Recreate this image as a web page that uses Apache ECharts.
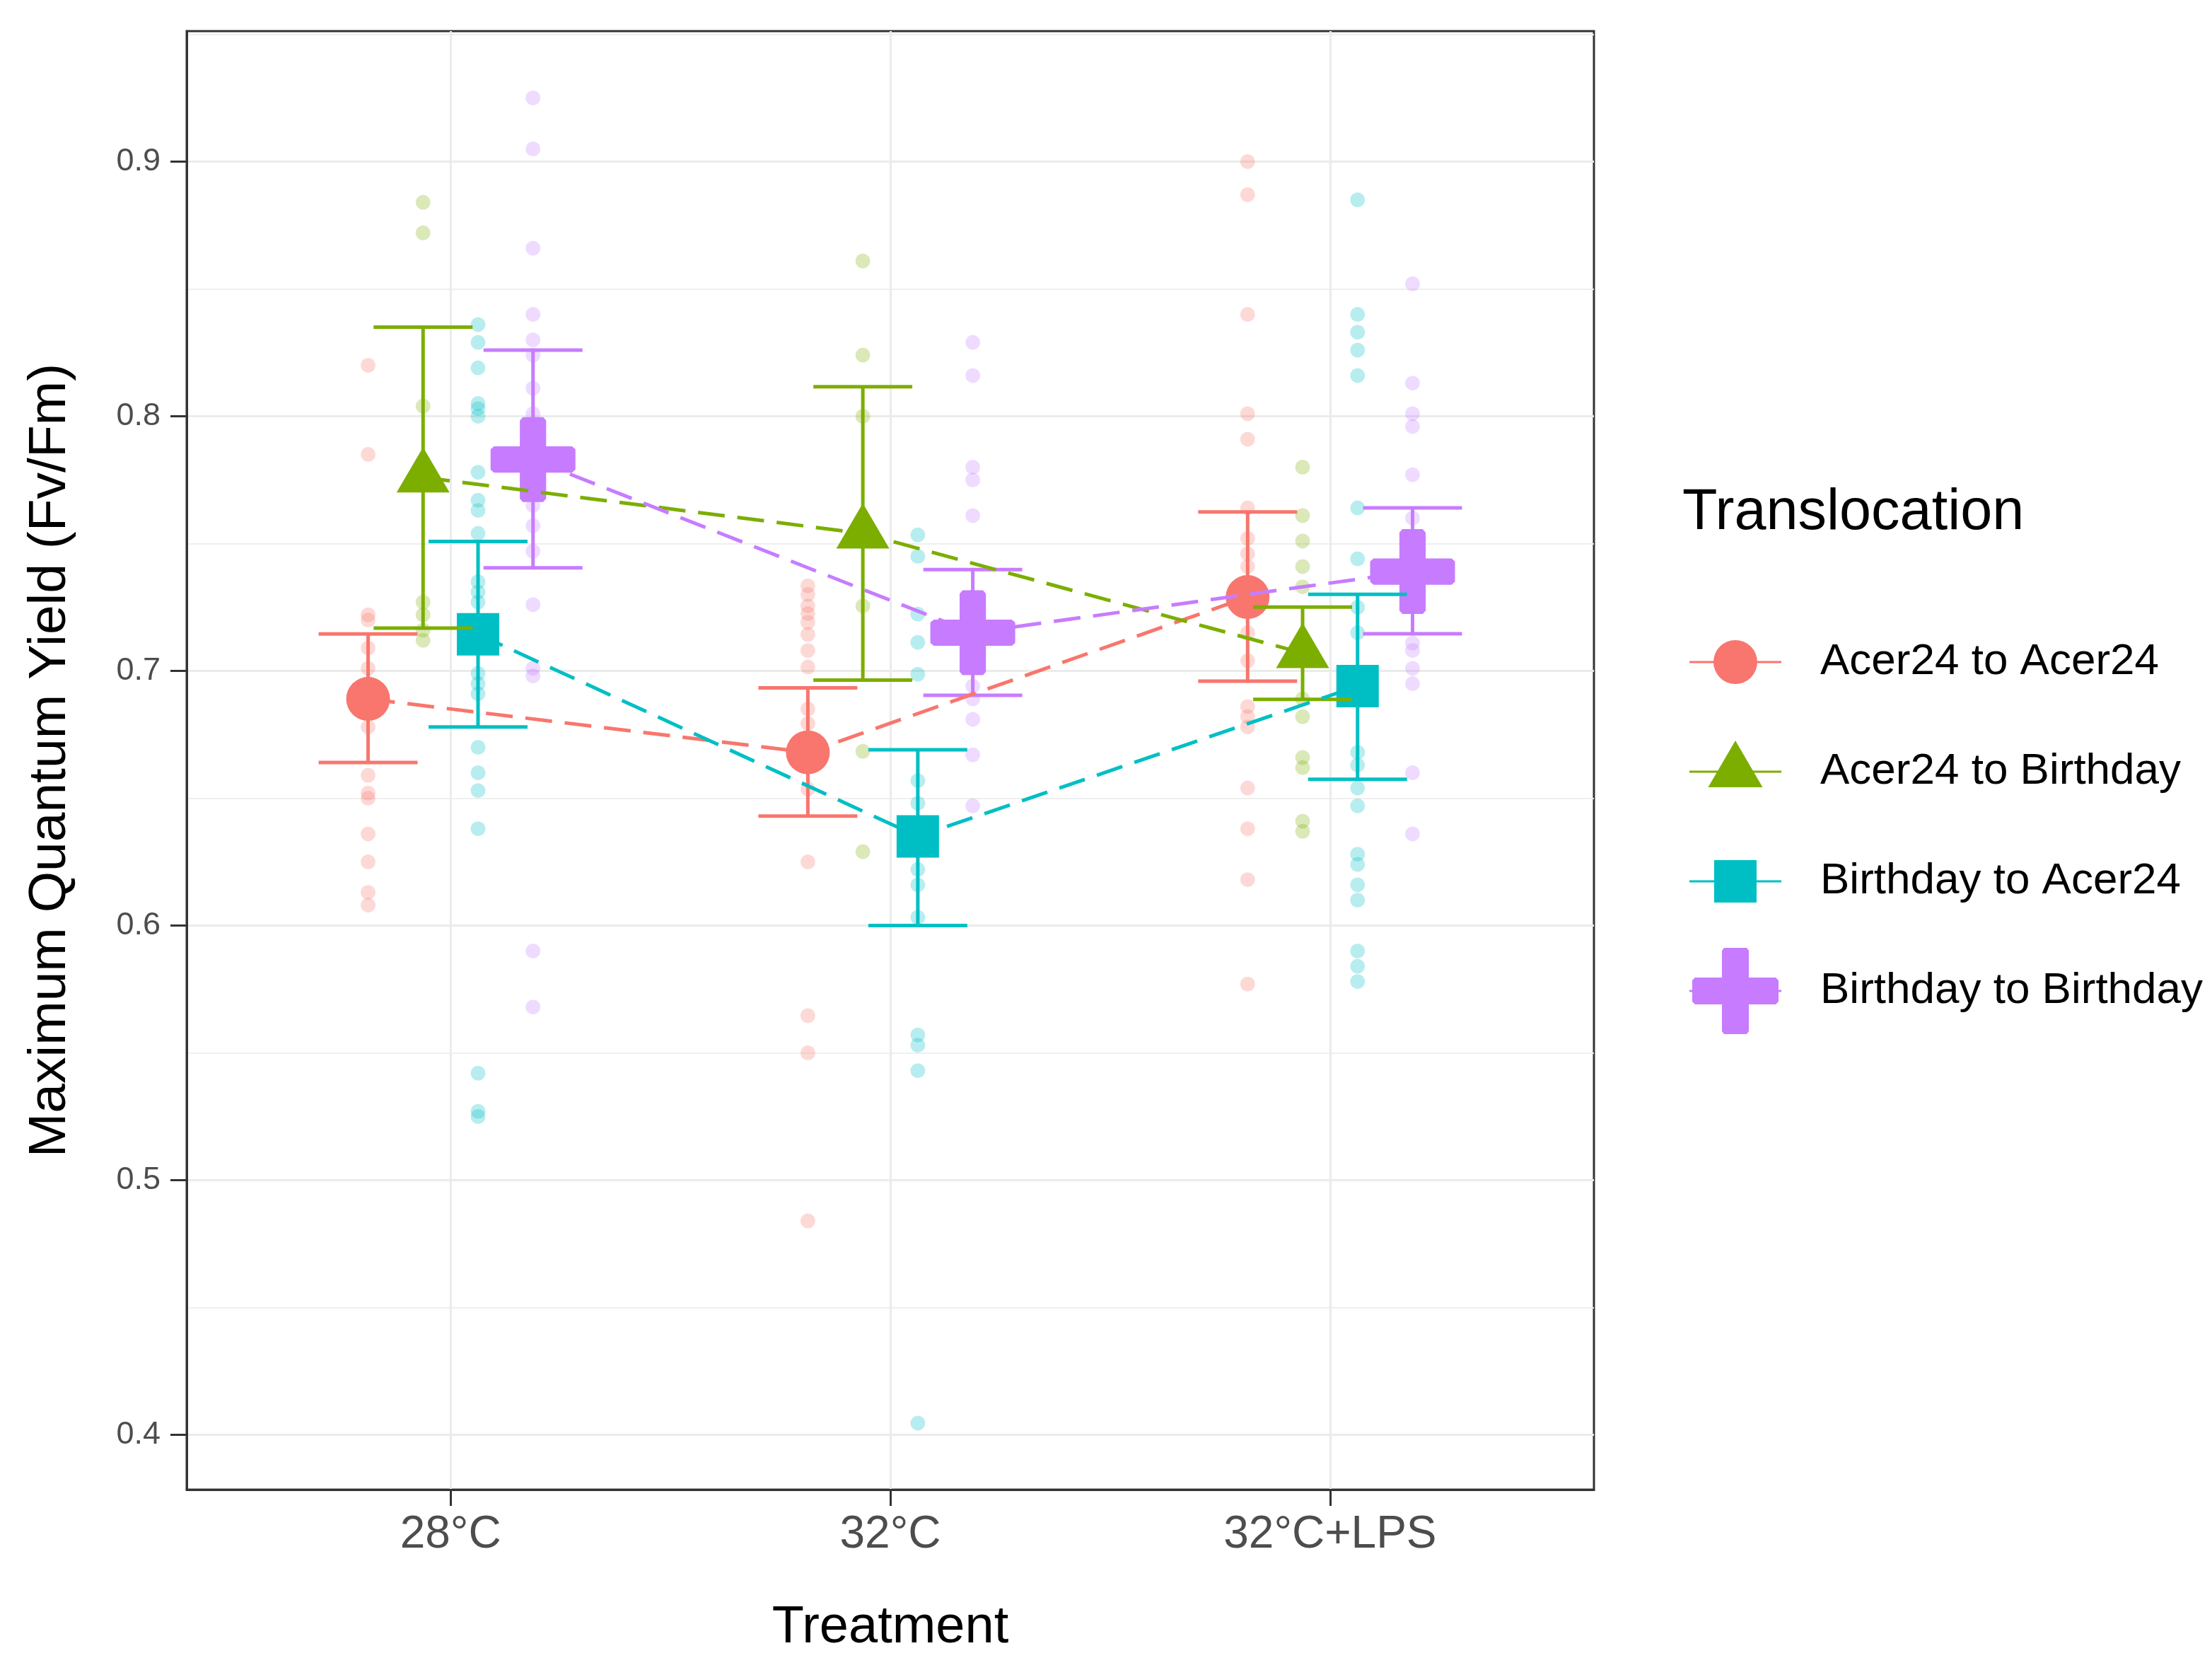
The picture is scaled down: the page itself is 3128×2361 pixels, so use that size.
<!DOCTYPE html>
<html>
<head>
<meta charset="utf-8">
<script src="https://cdn.jsdelivr.net/npm/echarts@6/dist/echarts.min.js"></script>
<style>
html,body{margin:0;padding:0;background:#fff;}
#chart{width:3128px;height:2361px;}
</style>
</head>
<body>
<div id="chart"></div>
<script>
// ---------- data ----------
const treatments = ['28°C', '32°C', '32°C+LPS'];
const groups = ['Acer24 to Acer24', 'Acer24 to Birthday', 'Birthday to Acer24', 'Birthday to Birthday'];
const yTicks = [0.4, 0.5, 0.6, 0.7, 0.8, 0.9];
const yMinorTicks = [0.45, 0.55, 0.65, 0.75, 0.85, 0.95];

// means and error-bar limits (per treatment)
const meanA2A = [0.689, 0.668, 0.729];
const lowA2A  = [0.664, 0.643, 0.696];
const highA2A = [0.7145, 0.6933, 0.7624];

const meanA2B = [0.776, 0.754, 0.707];
const lowA2B  = [0.7168, 0.6964, 0.6888];
const highA2B = [0.835, 0.8116, 0.7251];

const meanB2A = [0.7144, 0.635, 0.694];
const lowB2A  = [0.678, 0.600, 0.6574];
const highB2A = [0.7508, 0.669, 0.7301];

const meanB2B = [0.783, 0.715, 0.739];
const lowB2B  = [0.7405, 0.6904, 0.7146];
const highB2B = [0.826, 0.7398, 0.764];

// raw observations (per treatment)
const rawA2A = [
  [0.820, 0.785, 0.722, 0.720, 0.709, 0.701, 0.695, 0.688, 0.678, 0.659, 0.652, 0.650, 0.636, 0.625, 0.613, 0.608],
  [0.7334, 0.730, 0.7255, 0.7225, 0.7191, 0.7143, 0.708, 0.7015, 0.685, 0.6793, 0.6536, 0.625, 0.5646, 0.550, 0.484],
  [0.900, 0.887, 0.840, 0.801, 0.791, 0.764, 0.752, 0.746, 0.741, 0.715, 0.704, 0.686, 0.682, 0.678, 0.654, 0.638, 0.618, 0.577]
];
const rawA2B = [
  [0.884, 0.872, 0.804, 0.727, 0.722, 0.716, 0.712],
  [0.861, 0.824, 0.800, 0.7255, 0.6684, 0.629],
  [0.780, 0.761, 0.751, 0.741, 0.733, 0.689, 0.682, 0.666, 0.662, 0.641, 0.637]
];
const rawB2A = [
  [0.836, 0.829, 0.819, 0.805, 0.803, 0.800, 0.778, 0.767, 0.763, 0.754, 0.735, 0.731, 0.727, 0.699, 0.695, 0.691, 0.670, 0.660, 0.653, 0.638, 0.542, 0.527, 0.525],
  [0.7534, 0.745, 0.7223, 0.7112, 0.6987, 0.6569, 0.648, 0.622, 0.616, 0.6032, 0.557, 0.553, 0.543, 0.4046],
  [0.885, 0.840, 0.833, 0.826, 0.816, 0.764, 0.744, 0.725, 0.715, 0.668, 0.663, 0.654, 0.647, 0.628, 0.624, 0.616, 0.610, 0.590, 0.584, 0.578]
];
const rawB2B = [
  [0.925, 0.905, 0.866, 0.840, 0.830, 0.824, 0.811, 0.801, 0.765, 0.757, 0.747, 0.726, 0.701, 0.698, 0.590, 0.568],
  [0.829, 0.816, 0.780, 0.775, 0.761, 0.694, 0.689, 0.681, 0.667, 0.647],
  [0.852, 0.813, 0.801, 0.796, 0.777, 0.760, 0.711, 0.708, 0.701, 0.695, 0.660, 0.636]
];

// ---------- styling ----------
const FONT = 'Liberation Sans, Arial, sans-serif';
const colors = ['#F8766D', '#7CAE00', '#00BFC4', '#C77CFF'];
const dodge = [-0.1875, -0.0625, 0.0625, 0.1875];
const capHalf = 0.1125;
const means = [meanA2A, meanA2B, meanB2A, meanB2B];
const lows = [lowA2A, lowA2B, lowB2A, lowB2B];
const highs = [highA2A, highA2B, highB2A, highB2B];
const raws = [rawA2A, rawA2B, rawB2A, rawB2B];

const plusPath = 'path://M38,0 L62,0 L65.5,4 L65.5,34.5 L96,34.5 L100,38 L100,62 L96,65.5 L65.5,65.5 L65.5,96 L62,100 L38,100 L34.5,96 L34.5,65.5 L4,65.5 L0,62 L0,38 L4,34.5 L34.5,34.5 L34.5,4 Z';
const meanSymbols = [
  {symbol: 'circle', size: 62, offset: [0, 0]},
  {symbol: 'triangle', size: [75, 64], offset: [0, '-16.7%']},
  {symbol: 'rect', size: 60, offset: [0, 0]},
  {symbol: plusPath, size: 120, offset: [0, 0]}
];

// legend icons (box 180 x 128, key line through centre)
const bboxSpecks = ' M180,0 L180,0.01 L179.99,0 Z M180,128 L180,127.99 L179.99,128 Z';
const keyLine = 'M0,62.5 L130,62.5 L130,65.5 L0,65.5 Z ';
const legendIcons = [
  'path://' + keyLine + 'M34,64 A31,31 0 1 1 96,64 A31,31 0 1 1 34,64 Z' + bboxSpecks,
  'path://' + keyLine + 'M65,20 L103.5,86 L26.5,86 Z' + bboxSpecks,
  'path://' + keyLine + 'M35,34 L95,34 L95,94 L35,94 Z' + bboxSpecks,
  'path://' + keyLine + 'M49,3 L81,3 L84,7 L84,45 L122,45 L126,49 L126,79 L122,83 L84,83 L84,121 L81,125 L49,125 L46,121 L46,83 L8,83 L4,79 L4,49 L8,45 L46,45 L46,7 Z' + bboxSpecks
];

const series = [];
groups.forEach((g, gi) => {
  const xs = treatments.map((t, ti) => ti + 1 + dodge[gi]);
  const rawData = [];
  raws[gi].forEach((arr, ti) => arr.forEach(v => rawData.push([xs[ti], v])));
  series.push({
    name: g + ' (obs)', type: 'scatter', data: rawData, symbol: 'circle', symbolSize: 21,
    itemStyle: {color: colors[gi], opacity: 0.28}, z: 2, silent: true
  });
});
groups.forEach((g, gi) => {
  const xs = treatments.map((t, ti) => ti + 1 + dodge[gi]);
  series.push({
    name: g, type: 'scatter', data: means[gi].map((m, ti) => [xs[ti], m]),
    symbol: meanSymbols[gi].symbol, symbolSize: meanSymbols[gi].size, symbolOffset: meanSymbols[gi].offset,
    itemStyle: {color: colors[gi], opacity: 1}, z: 3
  });
});
groups.forEach((g, gi) => {
  const xs = treatments.map((t, ti) => ti + 1 + dodge[gi]);
  series.push({
    name: g + ' (err)', type: 'custom', z: 4,
    data: means[gi].map((m, ti) => [xs[ti], lows[gi][ti], highs[gi][ti]]),
    encode: {x: 0, y: [1, 2]},
    renderItem: function (params, api) {
      const x = api.value(0), lo = api.value(1), hi = api.value(2);
      const pLo = api.coord([x, lo]);
      const pHi = api.coord([x, hi]);
      const left = api.coord([x - capHalf, lo])[0];
      const right = api.coord([x + capHalf, lo])[0];
      const st = {stroke: colors[gi], lineWidth: 5};
      return {type: 'group', children: [
        {type: 'line', shape: {x1: pLo[0], y1: pLo[1], x2: pHi[0], y2: pHi[1]}, style: st},
        {type: 'line', shape: {x1: left, y1: pLo[1], x2: right, y2: pLo[1]}, style: st},
        {type: 'line', shape: {x1: left, y1: pHi[1], x2: right, y2: pHi[1]}, style: st}
      ]};
    }
  });
});
groups.forEach((g, gi) => {
  const xs = treatments.map((t, ti) => ti + 1 + dodge[gi]);
  series.push({
    name: g + ' (line)', type: 'line', z: 5, symbol: 'none', silent: true,
    data: means[gi].map((m, ti) => [xs[ti], m]),
    lineStyle: {color: colors[gi], width: 5, type: [38, 18]}
  });
});

const chart = echarts.init(document.getElementById('chart'), null, {renderer: 'canvas'});
chart.setOption({
  animation: false,
  backgroundColor: '#ffffff',
  textStyle: {fontFamily: FONT},
  title: {
    text: 'Translocation', left: 2374, top: 680,
    textStyle: {fontFamily: FONT, fontSize: 81, fontWeight: 'normal', color: '#000'}
  },
  legend: {
    orient: 'vertical', left: 2384, top: 867,
    itemWidth: 180, itemHeight: 128, itemGap: 27,
    textStyle: {fontFamily: FONT, fontSize: 62, color: '#000'},
    data: groups.map((g, gi) => ({name: g, icon: legendIcons[gi]})),
    selectedMode: false
  },
  grid: {
    left: 264, top: 44, width: 1990, height: 2062,
    show: true, borderColor: '#333333', borderWidth: 3, backgroundColor: '#ffffff'
  },
  xAxis: {
    type: 'value', min: 0.4, max: 3.6,
    name: 'Treatment', nameLocation: 'middle', nameGap: 159,
    nameTextStyle: {fontFamily: FONT, fontSize: 74, color: '#000'},
    axisLine: {show: true, lineStyle: {color: '#333333', width: 3}},
    axisTick: {show: true, customValues: [1, 2, 3], length: 23, lineStyle: {color: '#333333', width: 3}},
    axisLabel: {customValues: [1, 2, 3], margin: 32, fontSize: 64, color: '#4D4D4D', fontFamily: FONT,
      formatter: v => treatments[Math.round(v) - 1] || ''},
    splitLine: {show: true, lineStyle: {color: '#EBEBEB', width: 3}}
  },
  yAxis: [{
    type: 'value', min: 0.37847, max: 0.95125,
    name: 'Maximum Quantum Yield (Fv/Fm)', nameLocation: 'middle', nameGap: 155,
    nameTextStyle: {fontFamily: FONT, fontSize: 75, color: '#000'},
    axisLine: {show: true, lineStyle: {color: '#333333', width: 3}},
    axisTick: {show: true, customValues: yTicks, length: 23, lineStyle: {color: '#333333', width: 3}},
    axisLabel: {customValues: yTicks, margin: 37, fontSize: 45, color: '#4D4D4D', fontFamily: FONT,
      formatter: v => v.toFixed(1)},
    splitLine: {show: true, lineStyle: {color: '#EBEBEB', width: 3}}
  }, {
    type: 'value', min: 0.37847, max: 0.95125, position: 'left',
    axisLine: {show: false}, axisLabel: {show: false},
    axisTick: {show: false, customValues: yMinorTicks},
    splitLine: {show: true, lineStyle: {color: '#EFEFEF', width: 2}}
  }],
  series: series
});
</script>
</body>
</html>
